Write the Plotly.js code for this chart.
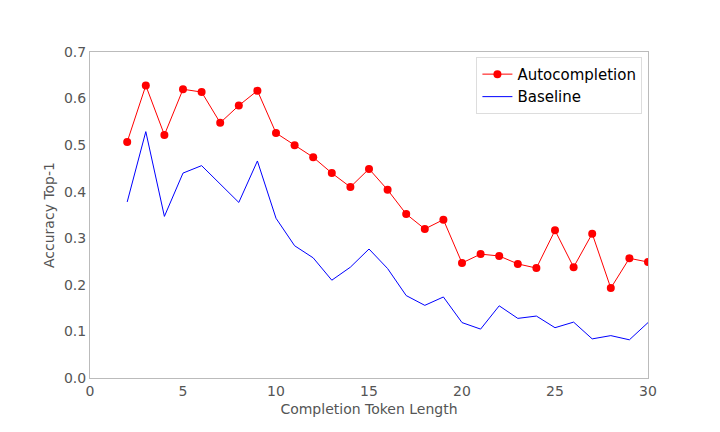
<!DOCTYPE html>
<html>
<head>
<meta charset="utf-8">
<script src="https://cdn.plot.ly/plotly-3.0.1.min.js"></script>
<style>
  body { margin: 0; background: white; }
  #myChart { width: 720px; height: 432px; }
</style>
</head>
<body>
<div id="myChart"></div>
<script>
// token lengths on the x axis
const tokenLength = [2, 3, 4, 5, 6, 7, 8, 9, 10, 11, 12, 13, 14, 15, 16,
  17, 18, 19, 20, 21, 22, 23, 24, 25, 26, 27, 28, 29, 30];

// top-1 accuracy
const autocompletion = [0.507, 0.628, 0.522, 0.620, 0.614, 0.548, 0.585, 0.617,
  0.526, 0.500, 0.474, 0.440, 0.410, 0.449, 0.404, 0.352, 0.320, 0.340,
  0.247, 0.266, 0.262, 0.245, 0.236, 0.317, 0.238, 0.310, 0.193, 0.257, 0.249];

const baseline = [0.378, 0.529, 0.347, 0.440, 0.456, 0.417, 0.377, 0.466,
  0.343, 0.284, 0.258, 0.210, 0.238, 0.277, 0.235, 0.177, 0.156, 0.174,
  0.119, 0.105, 0.155, 0.128, 0.133, 0.108, 0.120, 0.084, 0.091, 0.082, 0.119];

const xTicks = [0, 5, 10, 15, 20, 25, 30];
const yTicks = [0, 0.1, 0.2, 0.3, 0.4, 0.5, 0.6, 0.7];

var auto = {
  x: tokenLength,
  y: autocompletion,
  name: 'Autocompletion',
  type: 'scatter',
  mode: 'lines+markers',
  line: { color: 'red', width: 1 },
  marker: { color: 'red', size: 8 }
};

var base = {
  x: tokenLength,
  y: baseline,
  name: 'Baseline',
  type: 'scatter',
  mode: 'lines',
  line: { color: 'blue', width: 1 }
};

var layout = {
  width: 720,
  height: 432,
  margin: { l: 90, r: 72, t: 52, b: 54 },
  paper_bgcolor: 'white',
  plot_bgcolor: 'white',
  font: { family: 'DejaVu Sans', size: 14, color: '#555' },
  showlegend: true,
  legend: {
    x: 0.99, y: 0.985, xanchor: 'right', yanchor: 'top',
    bgcolor: 'white', bordercolor: '#ddd', borderwidth: 1,
    font: { family: 'DejaVu Sans', size: 15, color: 'black' },
    tracegroupgap: 0
  },
  xaxis: {
    range: [0, 30],
    tickvals: xTicks,
    ticktext: xTicks.map(String),
    showgrid: false,
    zeroline: false,
    showline: true,
    linecolor: '#bbb',
    mirror: true,
    ticks: '',
    title: { text: 'Completion Token Length', font: { size: 14, color: '#555' }, standoff: 6 }
  },
  yaxis: {
    range: [0, 0.7],
    tickvals: yTicks,
    ticktext: yTicks.map(v => v.toFixed(1)),
    showgrid: false,
    zeroline: false,
    showline: true,
    linecolor: '#bbb',
    mirror: true,
    ticks: '',
    title: { text: 'Accuracy Top-1', font: { size: 14, color: '#555' }, standoff: 6 }
  }
};

Plotly.newPlot('myChart', [auto, base], layout, { staticPlot: true });
</script>
</body>
</html>
